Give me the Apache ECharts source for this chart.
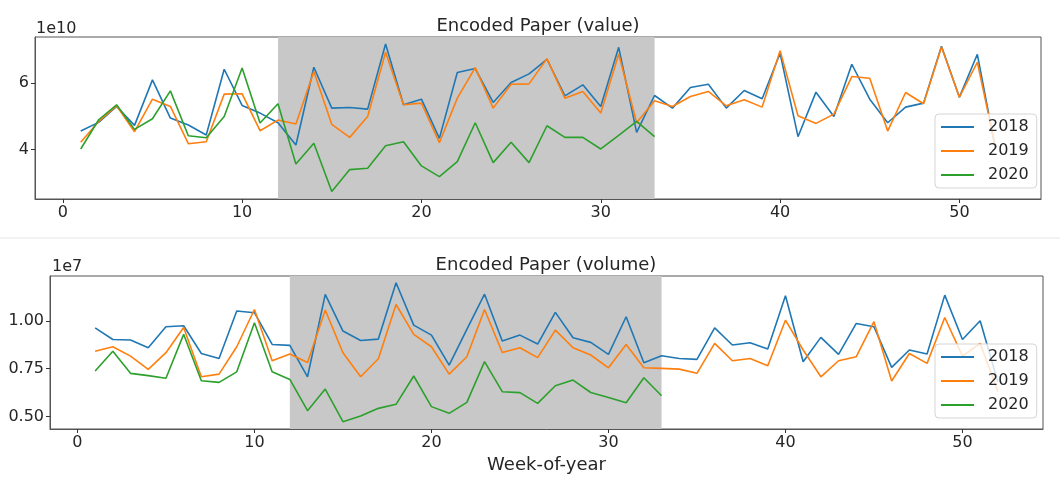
<!DOCTYPE html>
<html>
<head>
<meta charset="utf-8">
<script src="https://cdn.jsdelivr.net/npm/echarts@6/dist/echarts.min.js"></script>
<style>
  html, body { margin: 0; background: #fff; }
  #chart { width: 1060px; height: 487px; }
</style>
</head>
<body>
<div id="chart"></div>
<script>
// week numbers on x
const weeks = [1,2,3,4,5,6,7,8,9,10,11,12,13,14,15,16,17,18,19,20,21,22,23,24,25,26,
  27,28,29,30,31,32,33,34,35,36,37,38,39,40,41,42,43,44,45,46,47,48,49,50,51,52];
const years = ['2018', '2019', '2020'];
const colors = ['#1f77b4', '#ff7f0e', '#2ca02c'];

// value, in units of 1e10
const value2018 = [4.56,4.82,5.30,4.73,6.10,4.95,4.74,4.44,6.42,5.33,5.10,4.81,4.14,6.48,5.25,5.27,
  5.22,7.18,5.35,5.52,4.34,6.32,6.44,5.42,6.02,6.28,6.72,5.62,5.95,5.30,7.08,4.52,5.63,5.25,
  5.87,5.97,5.25,5.78,5.53,6.90,4.39,5.73,5.00,6.57,5.52,4.81,5.28,5.40,7.11,5.58,6.87,4.05];
const value2019 = [4.22,4.85,5.32,4.54,5.52,5.30,4.18,4.24,5.67,5.68,4.57,4.89,4.77,6.35,4.76,4.37,
  5.00,6.93,5.35,5.40,4.21,5.55,6.47,5.25,5.97,5.98,6.74,5.55,5.75,5.10,6.88,4.81,5.47,5.30,
  5.60,5.75,5.32,5.50,5.28,6.98,5.02,4.79,5.07,6.20,6.15,4.56,5.72,5.38,7.09,5.58,6.63,4.10];
const value2020 = [4.02,4.90,5.35,4.61,4.93,5.77,4.42,4.36,5.00,6.46,4.80,5.38,3.57,4.19,2.74,3.40,
  3.44,4.12,4.24,3.51,3.19,3.64,4.81,3.61,4.22,3.61,4.72,4.37,4.37,4.02,4.43,4.85,4.39];

// volume, in units of 1e7
const volume2018 = [0.963,0.902,0.899,0.859,0.969,0.974,0.829,0.803,1.051,1.042,0.876,0.871,0.707,
  1.138,0.946,0.897,0.904,1.199,0.977,0.925,0.768,0.955,1.139,0.894,0.925,0.878,1.044,0.911,0.887,
  0.824,1.021,0.780,0.817,0.803,0.798,0.963,0.873,0.885,0.852,1.131,0.786,0.913,0.824,0.986,0.969,
  0.756,0.847,0.826,1.134,0.902,1.000,0.680];
const volume2019 = [0.841,0.864,0.815,0.746,0.833,0.965,0.707,0.721,0.864,1.059,0.791,0.826,0.782,
  1.056,0.833,0.707,0.801,1.085,0.929,0.864,0.721,0.812,1.059,0.834,0.859,0.807,0.951,0.859,0.821,
  0.754,0.876,0.754,0.751,0.747,0.725,0.882,0.791,0.803,0.765,1.003,0.847,0.707,0.791,0.812,0.995,
  0.685,0.829,0.777,1.017,0.815,0.882,0.630];
const volume2020 = [0.737,0.841,0.725,0.713,0.699,0.929,0.686,0.678,0.733,0.990,0.733,0.693,0.530,
  0.643,0.472,0.502,0.542,0.563,0.711,0.551,0.516,0.573,0.786,0.629,0.624,0.568,0.660,0.690,0.625,
  0.599,0.571,0.702,0.608];

// shaded weeks
const spanStart = 12;
const spanEnd = 33;

const xTicks = [0, 10, 20, 30, 40, 50];
const valueTicks = [4, 6];
const volumeTicks = [0.5, 0.75, 1.0];

const font = 'DejaVu Sans';
const textColor = '#262626';

function pairs(vals) {
  return vals.map((v, i) => [weeks[i], v]);
}

function makeX(gridIndex, extra) {
  return Object.assign({
    type: 'value', gridIndex: gridIndex, min: -1.55, max: 54.55,
    axisLine: { show: true, onZero: false, lineStyle: { color: '#555', width: 1 } },
    axisTick: { show: true, customValues: xTicks, length: 4, lineStyle: { color: '#333' } },
    axisLabel: { customValues: xTicks, fontSize: 16, color: textColor, fontFamily: font, margin: 6 },
    splitLine: { show: false }
  }, extra || {});
}

function makeY(gridIndex, min, max, ticks, fmt) {
  return {
    type: 'value', gridIndex: gridIndex, min: min, max: max,
    axisLine: { show: true, onZero: false, lineStyle: { color: '#555', width: 1 } },
    axisTick: { show: true, customValues: ticks, length: 4, lineStyle: { color: '#333' } },
    axisLabel: { customValues: ticks, fontSize: 16, color: textColor, fontFamily: font, margin: 6,
      formatter: fmt },
    splitLine: { show: false }
  };
}

function lineSeries(name, idx, vals, g) {
  return {
    name: name, type: 'line', xAxisIndex: g, yAxisIndex: g, data: pairs(vals),
    showSymbol: false, z: 3, animation: false,
    lineStyle: { color: colors[idx], width: 1.6 },
    itemStyle: { color: colors[idx] }
  };
}

function spanSeries(g) {
  return {
    name: 'span' + g, type: 'line', xAxisIndex: g, yAxisIndex: g, data: [], z: 1,
    silent: true, animation: false,
    markArea: {
      silent: true,
      itemStyle: { color: '#c8c8c8', opacity: 1 },
      data: [[{ xAxis: spanStart }, { xAxis: spanEnd }]]
    }
  };
}

function makeLegend(top) {
  return {
    data: years, orient: 'vertical', left: 935, top: top,
    icon: 'rect', itemWidth: 33, itemHeight: 2, itemGap: 8,
    padding: [5, 8, 5, 6],
    backgroundColor: 'rgba(255,255,255,0.8)', borderColor: '#d5d5d5', borderWidth: 1, borderRadius: 4,
    textStyle: { fontSize: 16, color: textColor, fontFamily: font, padding: [0, 0, 0, 9] }
  };
}

const chart = echarts.init(document.getElementById('chart'));
chart.setOption({
  backgroundColor: '#fff',
  animation: false,
  color: colors,
  grid: [
    { left: 35, right: 19, top: 37, height: 162, show: true, borderColor: '#555', borderWidth: 1, backgroundColor: 'transparent' },
    { left: 50, right: 17, top: 276, height: 153, show: true, borderColor: '#555', borderWidth: 1, backgroundColor: 'transparent' }
  ],
  xAxis: [
    makeX(0),
    makeX(1, { name: 'Week-of-year', nameLocation: 'middle', nameGap: 27,
      nameTextStyle: { fontSize: 18, color: textColor, fontFamily: font } })
  ],
  yAxis: [
    makeY(0, 2.515, 7.39, valueTicks, v => String(v)),
    makeY(1, 0.434, 1.234, volumeTicks, v => v.toFixed(2))
  ],
  legend: [makeLegend(114), makeLegend(344)],
  graphic: [
    { type: 'rect', shape: { x: 0, y: 237, width: 1060, height: 2 }, style: { fill: '#f2f2f2' }, silent: true },
    { type: 'text', x: 538, y: 26, style: { text: 'Encoded Paper (value)', font: '18px "DejaVu Sans"', fill: textColor, textAlign: 'center', textVerticalAlign: 'middle' } },
    { type: 'text', x: 546, y: 265, style: { text: 'Encoded Paper (volume)', font: '18px "DejaVu Sans"', fill: textColor, textAlign: 'center', textVerticalAlign: 'middle' } },
    { type: 'text', x: 36, y: 29, style: { text: '1e10', font: '16px "DejaVu Sans"', fill: textColor, textAlign: 'left', textVerticalAlign: 'middle' } },
    { type: 'text', x: 52, y: 267, style: { text: '1e7', font: '16px "DejaVu Sans"', fill: textColor, textAlign: 'left', textVerticalAlign: 'middle' } }
  ],
  series: [
    spanSeries(0),
    lineSeries('2018', 0, value2018, 0),
    lineSeries('2019', 1, value2019, 0),
    lineSeries('2020', 2, value2020, 0),
    spanSeries(1),
    lineSeries('2018', 0, volume2018, 1),
    lineSeries('2019', 1, volume2019, 1),
    lineSeries('2020', 2, volume2020, 1)
  ]
});
</script>
</body>
</html>
